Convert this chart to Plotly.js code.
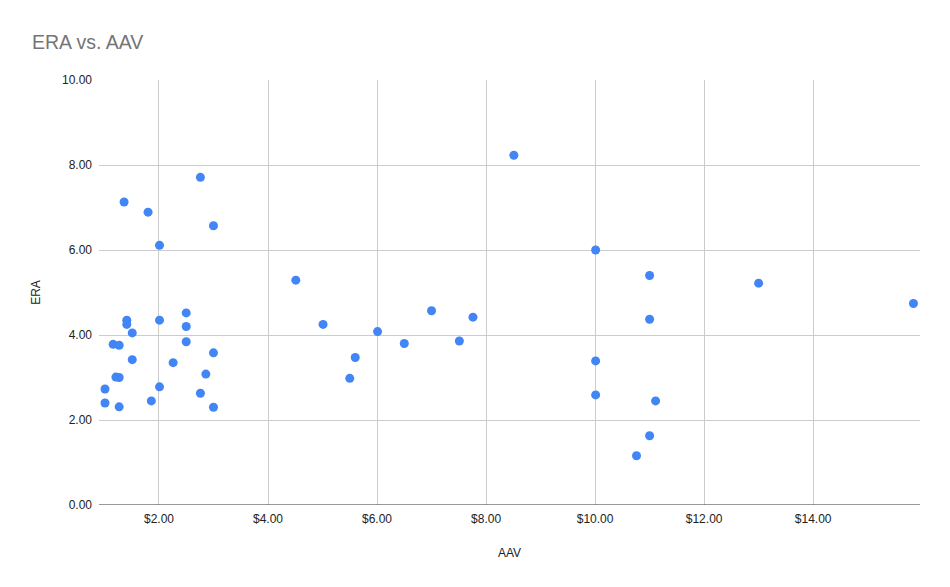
<!DOCTYPE html>
<html>
<head>
<meta charset="utf-8">
<script src="https://cdn.plot.ly/plotly-3.0.1.min.js"></script>
<style>
  html, body { margin: 0; padding: 0; background: #fff; }
  #chart { width: 950px; height: 587px; }
</style>
</head>
<body>
<div id="chart"></div>
<script>
// Average annual value (millions of dollars) for each pitcher
const aav = [
  1.36, 1.80, 2.01, 2.76, 3.00,
  1.41, 1.41, 1.51, 2.01, 2.50, 2.50, 2.50, 1.16, 1.27, 3.00, 1.51, 2.26,
  2.86, 1.21, 1.27, 2.01, 1.01, 2.76, 1.01, 1.86, 1.27, 3.00,
  4.51, 5.01, 6.01, 6.50, 7.00, 7.51, 7.76, 5.60, 5.50,
  8.51,
  10.01, 11.00, 11.00, 10.01, 10.01, 11.11, 11.00, 10.76,
  13.00, 15.84
];
// Earned run average for the same pitchers
const era = [
  7.13, 6.89, 6.11, 7.71, 6.57,
  4.35, 4.25, 4.05, 4.35, 4.52, 4.20, 3.84, 3.78, 3.76, 3.58, 3.42, 3.35,
  3.08, 3.01, 3.00, 2.78, 2.73, 2.63, 2.40, 2.45, 2.31, 2.30,
  5.29, 4.25, 4.08, 3.80, 4.57, 3.86, 4.42, 3.47, 2.98,
  8.23,
  6.00, 5.40, 4.37, 3.39, 2.59, 2.45, 1.63, 1.16,
  5.22, 4.74
];

const font = "'Liberation Sans', Arial, sans-serif";

const trace = {
  type: 'scatter',
  mode: 'markers',
  x: aav,
  y: era,
  marker: { color: '#4285F4', size: 9 },
  hoverinfo: 'x+y'
};

const layout = {
  width: 950,
  height: 587,
  paper_bgcolor: '#ffffff',
  plot_bgcolor: '#ffffff',
  margin: { l: 99, r: 30, t: 80, b: 82 },
  showlegend: false,
  font: { family: font, color: '#222222', size: 12 },
  title: {
    text: 'ERA vs. AAV',
    font: { family: font, size: 19.5, color: '#757575' },
    x: 32 / 950,
    xanchor: 'left',
    xref: 'container',
    y: 1 - 42 / 587,
    yanchor: 'middle',
    yref: 'container'
  },
  xaxis: {
    range: [0.9, 15.96],
    tick0: 0,
    dtick: 2,
    tickprefix: '$',
    tickformat: '.2f',
    showgrid: true,
    gridcolor: '#cccccc',
    gridwidth: 1,
    zeroline: false,
    showline: false,
    ticks: '',
    ticklen: 0,
    ticklabelstandoff: 5,
    tickfont: { family: font, size: 12, color: '#222222' },
    title: {
      text: 'AAV',
      font: { family: font, size: 12, color: '#222222' },
      standoff: 23
    }
  },
  yaxis: {
    range: [0, 10],
    tick0: 0,
    dtick: 2,
    tickformat: '.2f',
    showgrid: true,
    gridcolor: '#cccccc',
    gridwidth: 1,
    zeroline: false,
    showline: false,
    ticks: '',
    ticklabelstandoff: 6,
    tickfont: { family: font, size: 12, color: '#222222' },
    title: {
      text: 'ERA',
      font: { family: font, size: 12, color: '#222222' },
      standoff: 18
    }
  },
  shapes: [
    {
      type: 'line', xref: 'paper', yref: 'y',
      x0: 0, x1: 1, y0: 0, y1: 0,
      line: { color: '#333333', width: 1 }
    }
  ]
};

Plotly.newPlot('chart', [trace], layout, { displayModeBar: false, staticPlot: true });
</script>
</body>
</html>
